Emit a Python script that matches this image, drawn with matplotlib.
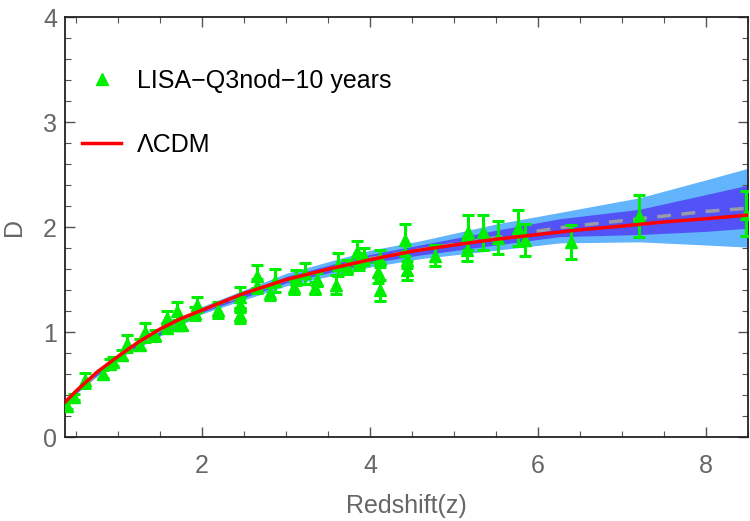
import matplotlib
matplotlib.use("Agg")
import matplotlib.pyplot as plt
from matplotlib.lines import Line2D
from matplotlib.ticker import MultipleLocator

# --- mock LISA data points ---
z_obs = [0.39, 0.47, 0.61, 0.82, 0.90, 0.94, 1.05, 1.10, 1.26, 1.32,
         1.44, 1.58, 1.58, 1.71, 1.70, 1.76, 1.92, 1.94, 2.19, 2.45,
         2.45, 2.45, 2.65, 2.65, 2.81, 2.87, 3.10, 3.12, 3.23, 3.35,
         3.37, 3.60, 3.62, 3.73, 3.85, 3.87, 3.93, 4.10, 4.12, 4.12,
         4.42, 4.44, 4.44, 4.77, 5.15, 5.17, 5.35, 5.52, 5.76, 5.85,
         6.40, 7.21, 8.48]
d_obs = [0.30, 0.38, 0.54, 0.60, 0.70, 0.72, 0.78, 0.89, 0.88, 1.00,
         0.97, 1.04, 1.13, 1.07, 1.20, 1.07, 1.18, 1.26, 1.21, 1.16,
         1.26, 1.33, 1.44, 1.53, 1.37, 1.49, 1.43, 1.52, 1.56, 1.42,
         1.50, 1.45, 1.64, 1.62, 1.76, 1.67, 1.72, 1.57, 1.40, 1.70,
         1.88, 1.69, 1.59, 1.73, 1.78, 1.95, 1.95, 1.90, 1.99, 1.88,
         1.86, 2.11, 2.13]
d_err = [0.03, 0.03, 0.07, 0.04, 0.04, 0.04, 0.05, 0.08, 0.05, 0.09,
         0.05, 0.05, 0.07, 0.05, 0.09, 0.05, 0.06, 0.07, 0.08, 0.07,
         0.07, 0.10, 0.07, 0.11, 0.06, 0.11, 0.07, 0.07, 0.10, 0.06,
         0.06, 0.09, 0.11, 0.07, 0.11, 0.08, 0.08, 0.10, 0.10, 0.08,
         0.15, 0.08, 0.09, 0.10, 0.10, 0.17, 0.17, 0.16, 0.17, 0.15,
         0.16, 0.20, 0.21]

# --- LCDM curve ---
z_lcdm = [0.37, 0.5, 0.75, 1.0, 1.25, 1.5, 1.75, 2.0, 2.5, 3.0, 3.5,
          4.0, 4.5, 5.0, 5.5, 6.0, 6.5, 7.0, 7.5, 8.0, 8.5]
d_lcdm = [0.335, 0.44, 0.62, 0.77, 0.91, 1.03, 1.13, 1.21, 1.37, 1.50,
          1.60, 1.69, 1.77, 1.83, 1.885, 1.93, 1.975, 2.01, 2.05, 2.08, 2.115]

# --- reconstruction: mean, 1 sigma and 2 sigma bands ---
z_band = [0.37, 1.0, 2.0, 3.0, 4.0, 4.6, 5.5, 6.26, 7.21, 8.0, 8.5]
d_mean = [0.335, 0.77, 1.21, 1.50, 1.70, 1.785, 1.90, 1.995, 2.08, 2.15, 2.18]
one_lo = [0.33, 0.76, 1.19, 1.47, 1.66, 1.735, 1.83, 1.91, 1.93, 1.96, 1.99]
one_hi = [0.34, 0.78, 1.23, 1.53, 1.74, 1.83, 1.97, 2.08, 2.17, 2.31, 2.40]
two_lo = [0.325, 0.75, 1.175, 1.44, 1.62, 1.70, 1.78, 1.85, 1.86, 1.83, 1.81]
two_hi = [0.345, 0.79, 1.245, 1.56, 1.78, 1.87, 2.03, 2.14, 2.28, 2.45, 2.56]

plt.rcParams['font.family'] = ['Liberation Sans Narrow', 'Liberation Sans', 'DejaVu Sans']

fig = plt.figure(figsize=(7.5, 5.21), dpi=100)
ax = fig.add_axes([0.087, 0.161, 0.91, 0.806])

ax.fill_between(z_band, two_lo, two_hi, color='#62b4fc', lw=0, zorder=1)
ax.fill_between(z_band, one_lo, one_hi, color='#5252f7', lw=0, zorder=2)
ax.plot(z_band, d_mean, color='#9a9aa8', lw=2.5, dashes=(4, 3), zorder=3)

ax.errorbar(z_obs, d_obs, yerr=d_err, fmt='^', color='#00ee00', ms=8.5,
            ecolor='#00ee00', elinewidth=2.2, capsize=4, capthick=2.2, zorder=4)
ax.plot(z_lcdm, d_lcdm, color='#ff0000', lw=2.5, zorder=5)

ax.set_xlim(0.37, 8.5)
ax.set_ylim(0, 4)

ax.xaxis.set_major_locator(MultipleLocator(2))
ax.xaxis.set_minor_locator(MultipleLocator(0.5))
ax.yaxis.set_major_locator(MultipleLocator(1))
ax.yaxis.set_minor_locator(MultipleLocator(0.2))
ax.tick_params(which='both', direction='in', top=True, right=True,
               color='#555555', labelcolor='#666666', labelsize=18)
ax.tick_params(which='major', length=7, width=1)
ax.tick_params(which='minor', length=4, width=0.8)
ax.tick_params(axis='x', pad=12)
ax.tick_params(axis='y', pad=6)
for s in ax.spines.values():
    s.set_color('#222222')
    s.set_linewidth(1.3)

ax.set_xlabel('Redshift(z)', fontsize=18, color='#666666', labelpad=12)
ax.set_ylabel('D', fontsize=18, color='#666666', labelpad=12)

handles = [Line2D([], [], marker='^', color='#00ee00', ls='none', ms=8.5),
           Line2D([], [], color='#ff0000', lw=2.5)]
ax.legend(handles, ['LISA\u2212Q3nod\u221210 years', '\u039bCDM'],
          loc='upper left', bbox_to_anchor=(-0.008, 0.93), frameon=False,
          fontsize=18, labelspacing=1.6, handlelength=1.55, handletextpad=0.65)

fig.savefig('out.png', dpi=100)
